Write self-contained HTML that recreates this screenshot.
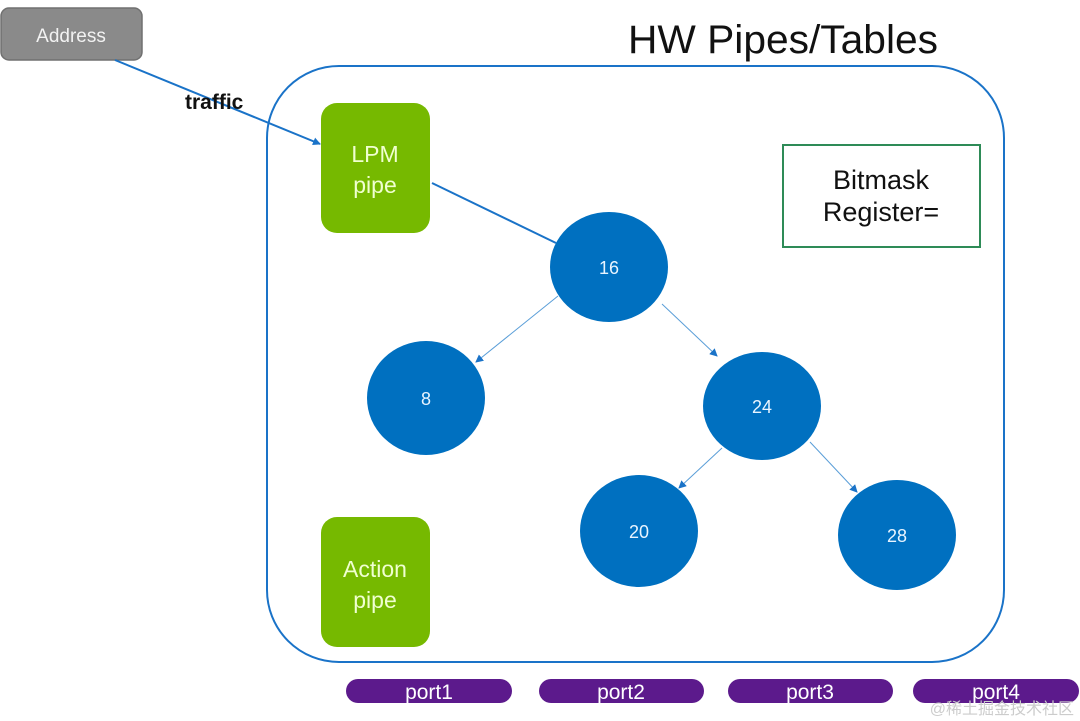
<!DOCTYPE html>
<html><head><meta charset="utf-8"><style>
html,body{margin:0;padding:0;background:#fff;}
svg{display:block;}
text{font-family:"Liberation Sans","DejaVu Sans",sans-serif;}
</style></head><body>
<svg width="1080" height="721" viewBox="0 0 1080 721" xmlns="http://www.w3.org/2000/svg">
<defs>
<marker id="a" markerWidth="8" markerHeight="8" refX="7" refY="4" orient="auto" markerUnits="userSpaceOnUse"><path d="M0,0 L8,4 L0,8 z" fill="#1a73c8"/></marker>
</defs>
<rect x="267" y="66" width="737" height="596" rx="72" fill="none" stroke="#1a73c8" stroke-width="2"/>
<text x="628" y="53" font-size="40" fill="#111" textLength="310" lengthAdjust="spacingAndGlyphs">HW Pipes/Tables</text>
<rect x="1" y="8" width="141" height="52" rx="8" fill="#8a8a8a" stroke="#707070" stroke-width="1.5"/>
<text x="71" y="42" font-size="19" fill="#f2f2f2" text-anchor="middle">Address</text>
<line x1="115" y1="60" x2="320" y2="144" stroke="#1a73c8" stroke-width="2" marker-end="url(#a)"/>
<text x="185" y="109" font-size="21" font-weight="bold" fill="#111">traffic</text>
<rect x="321" y="103" width="109" height="130" rx="16" fill="#76b900"/>
<text x="375" y="162" font-size="23" fill="#f0ffd0" text-anchor="middle">LPM</text>
<text x="375" y="193" font-size="23" fill="#f0ffd0" text-anchor="middle">pipe</text>
<rect x="321" y="517" width="109" height="130" rx="16" fill="#76b900"/>
<text x="375" y="577" font-size="23" fill="#f0ffd0" text-anchor="middle">Action</text>
<text x="375" y="608" font-size="23" fill="#f0ffd0" text-anchor="middle">pipe</text>
<rect x="783" y="145" width="197" height="102" fill="#fff" stroke="#2e8b57" stroke-width="2"/>
<text x="881" y="189" font-size="27" fill="#111" text-anchor="middle">Bitmask</text>
<text x="881" y="221" font-size="27" fill="#111" text-anchor="middle">Register=</text>
<line x1="432" y1="183" x2="556" y2="243" stroke="#1a73c8" stroke-width="2"/>
<line x1="558" y1="296" x2="476" y2="362" stroke="#5a9ed8" stroke-width="1" marker-end="url(#a)"/>
<line x1="662" y1="304" x2="717" y2="356" stroke="#5a9ed8" stroke-width="1" marker-end="url(#a)"/>
<line x1="722" y1="448" x2="679" y2="488" stroke="#5a9ed8" stroke-width="1" marker-end="url(#a)"/>
<line x1="810" y1="442" x2="857" y2="492" stroke="#5a9ed8" stroke-width="1" marker-end="url(#a)"/>
<g fill="#0070c0">
<ellipse cx="609" cy="267" rx="59" ry="55"/>
<ellipse cx="426" cy="398" rx="59" ry="57"/>
<ellipse cx="762" cy="406" rx="59" ry="54"/>
<ellipse cx="639" cy="531" rx="59" ry="56"/>
<ellipse cx="897" cy="535" rx="59" ry="55"/>
</g>
<g font-size="18" fill="#e8f4ff" text-anchor="middle">
<text x="609" y="274">16</text>
<text x="426" y="405">8</text>
<text x="762" y="413">24</text>
<text x="639" y="538">20</text>
<text x="897" y="542">28</text>
</g>
<g fill="#5c1a8c">
<rect x="346" y="679" width="166" height="24" rx="12"/>
<rect x="539" y="679" width="165" height="24" rx="12"/>
<rect x="728" y="679" width="165" height="24" rx="12"/>
<rect x="913" y="679" width="166" height="24" rx="12"/>
</g>
<g font-size="21" fill="#fff" text-anchor="middle">
<text x="429" y="699">port1</text>
<text x="621" y="699">port2</text>
<text x="810" y="699">port3</text>
<text x="996" y="699">port4</text>
</g>
<text x="1074" y="714" font-size="16" fill="#ccc" text-anchor="end" font-family="'Liberation Sans','Noto Sans CJK SC',sans-serif">@稀土掘金技术社区</text>
</svg>
</body></html>
